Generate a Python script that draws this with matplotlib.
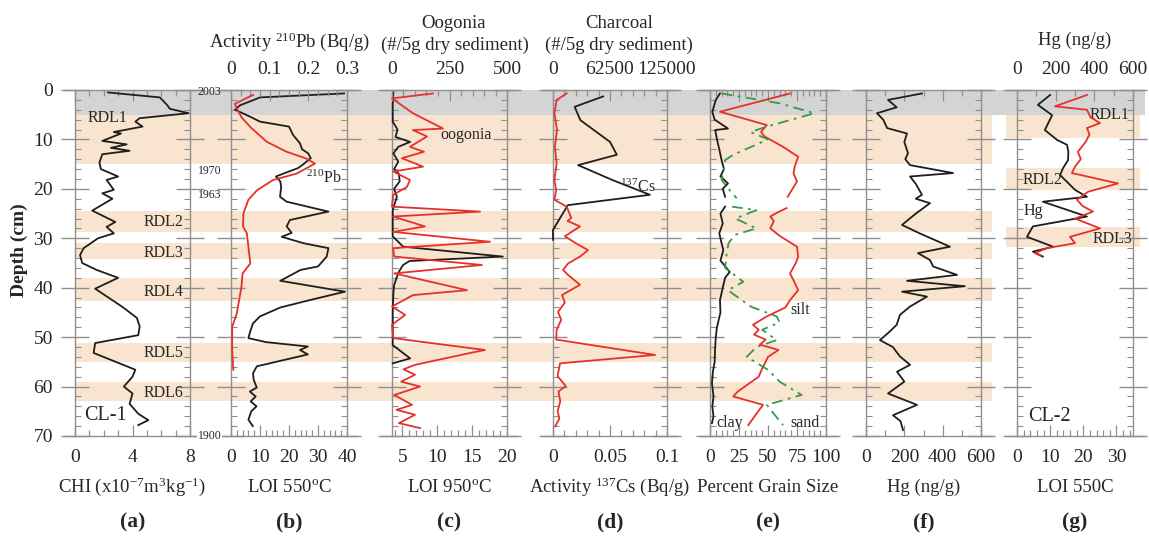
import numpy as np
import matplotlib
matplotlib.use("Agg")
import matplotlib.pyplot as plt
import matplotlib.transforms as mtransforms
from matplotlib.patches import Rectangle
from matplotlib.ticker import MultipleLocator

plt.rcParams["font.family"] = ["Liberation Serif", "DejaVu Serif"]
plt.rcParams["mathtext.fontset"] = "custom"
plt.rcParams["mathtext.rm"] = "Liberation Serif"
plt.rcParams["mathtext.default"] = "regular"

# ── Data (depth in cm) ─────────────────────────────────────────────────────────
chi_depth = [0.5, 1.5, 3.0, 3.8, 4.7, 5.7, 6.4, 7.4, 8.5, 8.8, 9.5, 10.3, 11.0, 11.7, 12.3,
             13.0, 14.7, 16.0, 17.5, 18.2, 20.2, 20.9, 22.0, 24.4, 26.7, 27.7, 29.0, 30.0,
             32.0, 33.4, 35.0, 36.4, 38.0, 40.2, 43.3, 44.1, 46.1, 47.8, 49.6, 51.2, 53.2,
             56.6, 58.0, 60.0, 61.4, 63.5, 65.5, 66.8, 67.8]
chi_val = [2.3, 5.9, 6.4, 6.6, 7.9, 4.5, 4.2, 4.7, 2.7, 3.2, 2.6, 1.9, 3.6, 2.5, 3.8,
           1.9, 1.7, 1.8, 3.0, 2.2, 2.7, 1.9, 2.6, 1.2, 2.8, 2.2, 2.7, 1.6,
           0.6, 0.35, 0.5, 1.5, 3.0, 1.4, 3.0, 3.4, 4.3, 4.5, 4.4, 1.4, 1.3,
           4.2, 4.0, 3.4, 4.0, 3.8, 4.4, 5.1, 4.4]

loi550_depth = [0.7, 1.5, 3.1, 4.0, 5.4, 6.4, 7.4, 9.1, 10.8, 12.0, 12.8, 13.8, 15.0, 15.8,
                17.5, 18.5, 19.6, 21.6, 22.6, 24.6, 26.3, 27.6, 28.9, 29.7, 31.0, 32.0, 33.7,
                35.7, 36.4, 38.6, 40.8, 42.5, 44.0, 45.8, 47.2, 48.9, 50.2, 51.0, 51.9, 52.6,
                53.5, 55.9, 57.3, 58.6, 60.2, 61.0, 62.0, 63.0, 64.0, 65.0, 66.7, 68.0]
loi550_val = [39, 10, 3.1, 1.4, 6.6, 10, 20, 21.4, 23.8, 24.5, 26.6, 27.5, 25, 23.1,
              15.5, 17, 17.3, 16.9, 19.2, 33.6, 20.3, 19.2, 20.9, 17.5, 25, 33.6, 33,
              30, 24, 17, 39.3, 27.2, 17, 10, 7.6, 6.6, 6, 12, 26.5, 23.8,
              26.5, 8.9, 7.6, 7.8, 8.9, 6.5, 8.5, 6.8, 8.8, 7, 6, 7.5]

pb_depth = [1.0, 2.8, 4.2, 5.6, 7.5, 10.5, 12.5, 13.9, 14.9, 16.9, 18.2, 20.3, 22.2, 25.0,
            27.6, 29.0, 31.7, 35.1, 37.1, 39.8, 45.2, 47.9, 52.6, 56.6]
pb_val = [0.057, 0.010, 0.018, 0.028, 0.05, 0.093, 0.144, 0.196, 0.217, 0.17, 0.109, 0.067,
          0.045, 0.032, 0.031, 0.041, 0.045, 0.050, 0.030, 0.027, 0.015, 0.003, 0.003, 0.006]

oog_depth = [0.7, 1.7, 4.7, 7.8, 8.1, 9.4, 11.5, 12.5, 13.8, 15.5, 16.5, 18.2, 19.6, 21.2,
             23.6, 24.6, 25.6, 27.6, 28.7, 30.7, 32.0, 33.7, 35.4, 37.1, 40.5, 41.5, 43.8,
             45.5, 47.5, 50.2, 52.6, 53.3, 55.6, 56.5, 57.6, 59.0, 60.0, 61.7, 63.7, 64.7,
             65.7, 67.4, 68.4]
oog_val = [178, 0, 91, 222, 91, 152, 78, 139, 43, 135, 6, 78, 65, 5,
           0, 383, 5, 143, 5, 426, 5, 10, 391, 10, 326, 91, 0,
           57, 0, 5, 404, 330, 100, 50, 100, 40, 122, 10, 87, 20,
           100, 30, 122]

loi950_depth = [0.5, 3.0, 6.4, 8.0, 9.5, 10.5, 11.5, 12.8, 14.5, 16.0, 17.0, 18.5, 20.0,
                21.6, 24.3, 29.6, 31.7, 33.7, 34.6, 35.4, 36.5, 37.8, 39.5, 41.1, 45.0,
                51.6, 54.3, 55.3]
loi950_val = [3.7, 3.6, 3.6, 4.3, 4.0, 6.1, 4.4, 3.7, 4.4, 3.8, 4.5, 4.6, 3.8,
              4.2, 3.6, 3.6, 5.1, 19.4, 6.0, 5.1, 4.6, 4.2, 3.8, 3.7, 3.6,
              3.6, 6.1, 3.6]

cs_depth = [1.3, 3.4, 6.1, 10.5, 13.1, 15.2, 18.2, 21.2, 23.3, 28.3, 30.3]
cs_val = [0.044, 0.019, 0.024, 0.050, 0.056, 0.022, 0.052, 0.085, 0.013, 0.0, 0.0]

char_depth = [0.7, 2.0, 4.7, 8.1, 11.5, 14.8, 18.2, 20.3, 22.2, 23.6, 25.9, 26.5, 27.6,
              29.6, 31.0, 32.4, 33.7, 35.1, 36.4, 37.5, 39.4, 41.5, 43.0, 44.9, 46.5,
              48.5, 50.5, 53.6, 55.3, 57.9, 59.9, 61.0, 63.0, 65.0, 66.5, 68.0]
char_val = [15000, 4000, 1500, 4400, 2000, 4000, 1500, 3500, 1500, 15000, 20000, 16000, 29600,
            13000, 25000, 38400, 29600, 16500, 11000, 17000, 29600, 9900, 13000, 5500, 9000,
            4000, 3500, 112000, 7700, 5000, 14000, 6000, 8000, 5000, 7000, 2500]

clay_depth = [0.7, 2.0, 4.4, 6.0, 7.8, 8.1, 10.0, 12.0, 14.2, 16.0, 17.5, 18.9, 20.0, 21.6,
              22.7, 23.6, 25.0, 27.0, 29.0, 31.0, 32.4, 34.5, 36.8, 38.0, 40.0, 42.5, 45.0,
              48.0, 50.0, 52.6, 55.0, 57.0, 59.3, 62.0, 64.0, 66.0, 67.4]
clay_val = [8.6, 5, 2, 4, 15.5, 4.5, 6, 8, 10, 12, 9, 15.5, 11, 13,
            np.nan, 13, 9, 11, 8, 10, 11.5, 9, 17, 13, 11, 8.6, 9,
            6, 5, 4.3, 4, 2.5, 1.7, 3, 2, 3, 1.7]

silt_depth = [0.7, 4.4, 7.1, 8.5, 9.4, 11.5, 13.5, 15.5, 16.9, 18.5, 21.6, 22.7, 23.9, 24.8,
              25.6, 26.5, 28.0, 29.5, 31.7, 33.7, 35.0, 37.1, 38.5, 40.5, 42.5, 44.0, 45.8,
              47.5, 48.5, 49.5, 50.5, 51.5, 52.6, 54.0, 56.6, 58.0, 60.0, 61.0, 62.0, 63.7,
              65.5, 67.8]
silt_val = [69, 8.6, 49, 44, 47, 63, 76, 73, 72, 75, 67, np.nan, 66, 58,
            52, 55, 52, 60, 75, 76, 74, 69, 72, 76, 69, 65, 49,
            37, 42, 38, 48, 43, 59, 50, 44.5, 42, 30, 24, 20, 45.7,
            40, 33]

sand_depth = [0.7, 2.7, 4.7, 7.4, 8.5, 10.0, 13.1, 14.2, 16.0, 18.2, 20.0, 21.9, 22.7, 23.6,
              24.3, 26.0, 28.0, 29.3, 31.0, 33.0, 36.0, 38.8, 40.5, 43.8, 45.8, 47.0, 48.5,
              50.6, 52.0, 54.0, 56.6, 59.0, 61.7, 63.7, 65.5, 67.8]
sand_val = [10, 60, 90, 49, 35, 50, 20, 13, 12, 10, 16, 23, np.nan, 19,
            40, 22, 40, 21.6, 16, 14.4, 13, 28.7, 15.5, 35, 57.5, 60, 45,
            57.5, 40, 31.6, 50, 60, 79, 49, 55, 63]

hg1_depth = [0.7, 2.0, 3.5, 4.7, 6.0, 7.7, 8.8, 10.5, 12.8, 14.0, 15.2, 16.8, 17.5, 19.0,
             21.2, 22.0, 22.9, 25.0, 27.3, 29.0, 31.7, 33.0, 34.4, 35.7, 37.4, 38.6, 39.7,
             40.8, 41.8, 43.8, 45.5, 47.5, 49.0, 50.6, 52.0, 53.9, 55.6, 57.0, 59.0, 61.4,
             63.7, 65.8, 67.0, 68.8]
hg1_val = [292, 115, 160, 57, 90, 110, 214, 200, 219, 205, 230, 454, 230, 260,
           292, 260, 334, 260, 188, 280, 438, 271, 334, 350, 475, 214, 516,
           188, 318, 230, 177, 160, 120, 73, 140, 177, 230, 162, 200, 115,
           266, 141, 180, 193]

loi2_depth = [1.0, 3.0, 5.1, 8.1, 10.1, 11.1, 12.5, 14.2, 15.8, 17.2, 20.2, 21.6, 22.6,
              25.6, 26.6, 27.6, 29.7, 31.7, 32.7, 33.7]
loi2_val = [10.0, 6.3, 10.6, 8.4, 12.1, 15.1, 15.5, 15.4, 13.9, 13.0, 17.5, 21.1, 7.8,
            21.1, 13.0, 4.8, 3.0, 10.9, 4.8, 7.8]

hg2_depth = [1.0, 3.3, 4.0, 5.5, 6.7, 7.7, 9.0, 10.5, 12.5, 14.0, 15.5, 16.8, 18.9, 20.6,
             22.2, 23.5, 24.6, 26.0, 28.0, 29.7, 31.0, 32.0, 33.0, 33.5]
hg2_val = [362, 196, 362, 380, 429, 362, 375, 355, 315, 330, 300, 284, 522, 367,
           310, 340, 393, 300, 429, 274, 300, 155, 93, 120]

# shaded depth intervals (cm)
recent_band = (0, 5)
cl1_bands = [(5, 15), (24.5, 28.7), (31, 34.2), (38, 42.7), (51.2, 55), (59, 63)]
cl2_bands = [(5, 9.7), (15.8, 20.2), (27.8, 31.7)]

# ── Layout (pixels of the 1149 x 537 canvas) ──────────────────────────────────
W, H = 1149, 537
Y_TOP, Y_BOT = 90, 436
PANELS = {"a": (75, 190), "b": (231, 347), "c": (392, 507), "d": (553, 667),
          "e": (710, 826), "f": (866, 981), "g": (1017, 1133)}
FRAME = "#8f8f8f"
TXT = "#262626"
BLACK = "#1e1e1e"
RED = "#e6312b"
GREEN = "#3a9848"
TAN = "#f8e4cf"
GREY = "#d4d4d4"
TICK_FS = 14

fb = 1 - Y_BOT / H
fh = (Y_BOT - Y_TOP) / H

fig = plt.figure(figsize=(W / 100, H / 100), dpi=100)
fig.patch.set_facecolor("white")

# background bands
bg = fig.add_axes([0, fb, 1, fh], zorder=0)
bg.set_xlim(0, W)
bg.set_ylim(70, 0)
bg.axis("off")
bg.add_patch(Rectangle((75, recent_band[0]), 1145 - 75, recent_band[1] - recent_band[0],
                       color=GREY, lw=0))
for d0, d1 in cl1_bands:
    bg.add_patch(Rectangle((75, d0), 992 - 75, d1 - d0, color=TAN, lw=0))
for d0, d1 in cl2_bands:
    bg.add_patch(Rectangle((1006, d0), 1140 - 1006, d1 - d0, color=TAN, lw=0))


def make_panel(key):
    x0, x1 = PANELS[key]
    ax = fig.add_axes([x0 / W, fb, (x1 - x0) / W, fh], zorder=2)
    ax.set_facecolor("none")
    for s in ("top", "bottom"):
        ax.spines[s].set_visible(False)
    for s in ("left", "right"):
        ax.spines[s].set_color(FRAME)
        ax.spines[s].set_linewidth(1.0)
    ext = 10 / (x1 - x0)
    for yy in (0, 1):
        ax.plot([-ext, 1 + ext], [yy, yy], transform=ax.transAxes, color=FRAME,
                lw=1.0, clip_on=False, zorder=1)
    ax.set_ylim(70, 0)
    ax.yaxis.set_major_locator(MultipleLocator(10))
    ax.yaxis.set_minor_locator(MultipleLocator(2))
    ax.tick_params(axis="y", which="major", direction="inout", length=20, width=1,
                   color=FRAME, left=True, right=True, labelleft=False)
    ax.tick_params(axis="y", which="minor", direction="in", length=4, width=0.8,
                   color=FRAME, left=True, right=True)
    ax.tick_params(axis="x", which="both", direction="in", color=FRAME, width=0.9,
                   labelsize=TICK_FS, labelcolor=TXT, pad=9)
    ax.tick_params(axis="x", which="major", length=8)
    ax.tick_params(axis="x", which="minor", length=4)
    return ax


def make_top(ax, lim, major, minor):
    top = ax.twiny()
    top.set_facecolor("none")
    for s in top.spines.values():
        s.set_visible(False)
    top.set_xlim(*lim)
    top.xaxis.set_major_locator(MultipleLocator(major))
    top.xaxis.set_minor_locator(MultipleLocator(minor))
    top.tick_params(axis="x", which="both", direction="in", color=FRAME, width=0.9,
                    labelsize=TICK_FS, labelcolor=TXT, pad=9)
    top.tick_params(axis="x", which="major", length=8)
    top.tick_params(axis="x", which="minor", length=4)
    ax.tick_params(axis="x", which="both", top=False)
    return top


def set_bottom(ax, lim, major, minor, top_ticks=True):
    ax.set_xlim(*lim)
    ax.xaxis.set_major_locator(MultipleLocator(major))
    ax.xaxis.set_minor_locator(MultipleLocator(minor))
    ax.tick_params(axis="x", which="both", top=top_ticks, labeltop=False)


def label(ax, x, depth, s, size=11.5, ha="center", **kw):
    tr = mtransforms.blended_transform_factory(ax.transAxes, ax.transData)
    ax.text(x, depth, s, transform=tr, ha=ha, va="center", fontsize=size,
            color=TXT, zorder=5, **kw)


line_kw = dict(lw=1.3, zorder=4, clip_on=False)

# (a) CHI
ax_a = make_panel("a")
set_bottom(ax_a, (0, 8), 4, 1)
ax_a.tick_params(axis="y", which="major", labelleft=True, labelsize=TICK_FS,
                 labelcolor=TXT, pad=6)
ax_a.plot(chi_val, chi_depth, color=BLACK, **line_kw)
label(ax_a, 0.28, 5.6, "RDL1")
for name, dep in (("RDL2", 26.7), ("RDL3", 33.0), ("RDL4", 40.8), ("RDL5", 53.3), ("RDL6", 61.4)):
    label(ax_a, 0.945, dep, name, ha="right")
label(ax_a, 0.08, 65.8, "CL-1", size=14.5, ha="left")

# (b) LOI 550 + 210Pb
ax_b = make_panel("b")
set_bottom(ax_b, (0, 40), 10, 2)
ax_b.plot(loi550_val, loi550_depth, color=BLACK, **line_kw)
top_b = make_top(ax_b, (0, 0.3), 0.1, 0.025)
top_b.set_xticks([0, 0.1, 0.2, 0.3])
top_b.set_xticklabels(["0", "0.1", "0.2", "0.3"])
top_b.plot(pb_val, pb_depth, color=RED, **line_kw)
label(ax_b, 0.80, 17.8, "$^{210}$Pb")
for yr, dep in (("2003", 0.4), ("1970", 16.4), ("1963", 21.3), ("1900", 70)):
    label(ax_b, -0.185, dep, yr, size=8.5,
          bbox=dict(facecolor="white", edgecolor="none", pad=0.5) if yr == "1900" else None)

# (c) LOI 950 + oogonia
ax_c = make_panel("c")
set_bottom(ax_c, (3.5, 20), 5, 1)
ax_c.plot(loi950_val, loi950_depth, color=BLACK, **line_kw)
top_c = make_top(ax_c, (0, 500), 250, 50)
top_c.plot(oog_val, oog_depth, color=RED, **line_kw)
label(ax_c, 0.64, 9.1, "oogonia")

# (d) 137Cs + charcoal
ax_d = make_panel("d")
set_bottom(ax_d, (0, 0.1), 0.05, 0.01)
ax_d.set_xticks([0, 0.05, 0.1])
ax_d.set_xticklabels(["0", "0.05", "0.1"])
ax_d.plot(cs_val, cs_depth, color=BLACK, **line_kw)
top_d = make_top(ax_d, (0, 125000), 62500, 12500)
top_d.set_xticks([0, 62500, 125000])
top_d.set_xticklabels(["0", "62500", "125000"])
top_d.plot(char_val, char_depth, color=RED, **line_kw)
label(ax_d, 0.74, 19.6, "$^{137}$Cs")

# (e) grain size
ax_e = make_panel("e")
set_bottom(ax_e, (0, 100), 25, 5)
ax_e.plot(clay_val, clay_depth, color=BLACK, **line_kw)
ax_e.plot(silt_val, silt_depth, color=RED, **line_kw)
ax_e.plot(sand_val, sand_depth, color=GREEN, ls=(0, (6, 3, 1.5, 3)), **line_kw)
label(ax_e, 0.78, 44.5, "silt")
label(ax_e, 0.17, 67.4, "clay")
label(ax_e, 0.82, 67.4, "sand")

# (f) Hg CL-1
ax_f = make_panel("f")
set_bottom(ax_f, (0, 600), 200, 100)
ax_f.plot(hg1_val, hg1_depth, color=BLACK, **line_kw)

# (g) CL-2
ax_g = make_panel("g")
set_bottom(ax_g, (0, 35), 10, 2)
ax_g.plot(loi2_val, loi2_depth, color=BLACK, **line_kw)
top_g = make_top(ax_g, (0, 600), 200, 100)
top_g.plot(hg2_val, hg2_depth, color=RED, **line_kw)
label(ax_g, 0.80, 5.0, "RDL1")
label(ax_g, 0.22, 18.2, "RDL2")
label(ax_g, 0.14, 24.5, "Hg")
label(ax_g, 0.82, 30.2, "RDL3")
label(ax_g, 0.28, 66.0, "CL-2", size=14.5)

# ── Figure-level labels ────────────────────────────────────────────────────────
def ftext(x, y, s, size=13.5, **kw):
    fig.text(x / W, 1 - y / H, s, ha="center", va="center", fontsize=size, color=TXT, **kw)


bottom_labels = {
    "a": ("CHI (x10$^{-7}$m$^{3}$kg$^{-1}$)", "(a)"),
    "b": ("LOI 550$^{o}$C", "(b)"),
    "c": ("LOI 950$^{o}$C", "(c)"),
    "d": ("Activity $^{137}$Cs (Bq/g)", "(d)"),
    "e": ("Percent Grain Size", "(e)"),
    "f": ("Hg (ng/g)", "(f)"),
    "g": ("LOI 550C", "(g)"),
}
for key, (xlab, letter) in bottom_labels.items():
    x0, x1 = PANELS[key]
    ftext((x0 + x1) / 2, 487, xlab)
    ftext((x0 + x1) / 2, 522, letter, size=15.5, fontweight="bold")

ftext(290, 42, "Activity $^{210}$Pb (Bq/g)")
ftext(454, 23, "Oogonia")
ftext(455, 45, "(#/5g dry sediment)")
ftext(619, 23, "Charcoal")
ftext(619, 45, "(#/5g dry sediment)")
ftext(1075, 40, "Hg (ng/g)")
ftext(19, 250, "Depth (cm)", size=14, fontweight="bold", rotation=90)

fig.savefig("out.png", dpi=100, facecolor="white")
